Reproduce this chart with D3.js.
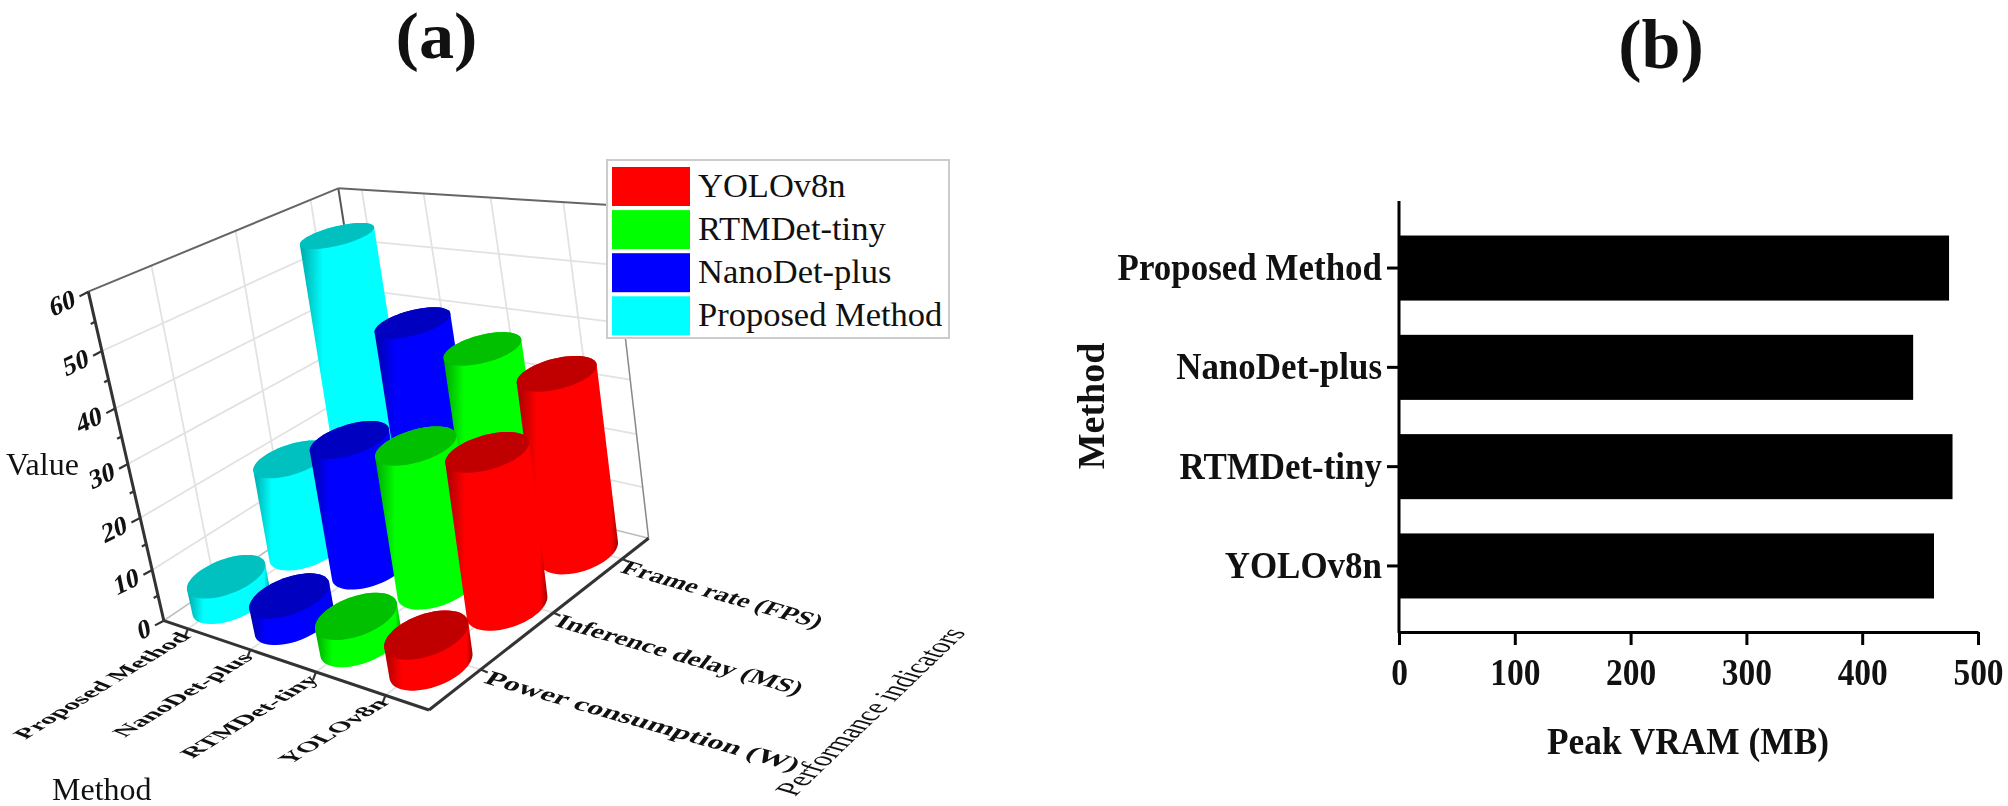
<!DOCTYPE html>
<html><head><meta charset="utf-8">
<script src="https://d3js.org/d3.v7.min.js"></script>
<style>html,body{margin:0;background:#fff}svg{display:block;filter:blur(.55px)}text{font-family:"Liberation Serif",serif;fill:#111}</style>
</head><body><svg id="c" width="2008" height="806"></svg>
<script>
const methods=["Proposed Method","NanoDet-plus","RTMDet-tiny","YOLOv8n"];
const indicators=["Power consumption (W)","Inference delay (MS)","Frame rate (FPS)"];
const powerValues=[5,5,5,5.5];
const delayValues=[18.5,25,26.5,28];
const frameValues=[54,39,36,33.5];
const legendOrder=["YOLOv8n","RTMDet-tiny","NanoDet-plus","Proposed Method"];
const colors={"YOLOv8n":["#ff0000","#c00000","#a80000"],"RTMDet-tiny":["#00ff00","#00c000","#00a800"],"NanoDet-plus":["#0000ff","#0000c0","#0000a8"],"Proposed Method":["#00ffff","#00c0c0","#00a8a8"]};
const vramMethods=["Proposed Method","NanoDet-plus","RTMDet-tiny","YOLOv8n"];
const vramValues=[475,444,478,462];
const zTicks=[0,10,20,30,40,50,60];
const vramTicks=[0,100,200,300,400,500];

const svg=d3.select("#c");
const defs=svg.append("defs");
Object.entries(colors).forEach(([k,c],i)=>{
  const g=defs.append("linearGradient").attr("id","g"+i);
  [[0,c[2]],[.2,c[0]],[.93,c[0]],[1,c[2]]].forEach(s=>g.append("stop").attr("offset",s[0]).attr("stop-color",s[1]));
  c.gid="url(#g"+i+")";
});

/* projection of the 3D box */
function homography(q){
  const [[x0,y0],[x1,y1],[x2,y2],[x3,y3]]=q;
  const dx1=x1-x2,dx2=x3-x2,sx=x0-x1+x2-x3,dy1=y1-y2,dy2=y3-y2,sy=y0-y1+y2-y3;
  const den=dx1*dy2-dx2*dy1,g=(sx*dy2-dx2*sy)/den,h=(dx1*sy-sx*dy1)/den;
  const a=x1-x0+g*x1,b=x3-x0+h*x3,d=y1-y0+g*y1,e=y3-y0+h*y3;
  return (u,v)=>{const w=g*u+h*v+1;return [(a*u+b*v+x0)/w,(d*u+e*v+y0)/w];};
}
const floorH=homography([[163.8,620.7],[429,710],[648.6,538.3],[383,472]]);
const topH=homography([[88.3,291.7],[371,335],[610,205],[338.3,188.3]]);
const zScale=d3.scaleLinear().domain([0,60]).range([0,1]);
const zWarp=t=>t/(1+.1*(1-t));
function P(u,v,z){const a=floorH(u,v),b=topH(u,v),f=zWarp(zScale(z));return [a[0]+(b[0]-a[0])*f,a[1]+(b[1]-a[1])*f];}
const uScale=d3.scalePoint().domain(methods).range([.1,.85]);
const vScale=d3.scalePoint().domain(indicators).range([.22,.87]);
const cylU=d3.scalePoint().domain(methods).range([.11,.865]);
const cylV=d3.scalePoint().domain(indicators).range([.175,.85]);
const line=d3.line();
const g3=svg.append("g");
function seg(a,b,col,w){g3.append("path").attr("d",line([a,b])).attr("stroke",col).attr("stroke-width",w).attr("fill","none");}

/* walls */
const gridCol="#e2e2e2";
zTicks.filter(z=>z>0&&z<60).forEach(z=>{
  seg(P(0,0,z),P(0,1,z),gridCol,1.8);
  seg(P(0,1,z),P(1,1,z),gridCol,1.8);
});
methods.forEach(m=>{const u=uScale(m);seg(P(u,1,0),P(u,1,60),gridCol,1.8);seg(P(u,0,0),P(u,1,0),gridCol,1.8);});
indicators.forEach(n=>{const v=vScale(n);seg(P(0,v,0),P(0,v,60),gridCol,1.8);seg(P(0,v,0),P(1,v,0),gridCol,1.8);});
seg(P(0,1,0),P(1,1,0),"#bbb",1.5);
seg(P(0,0,0),P(0,1,0),"#bbb",1.5);
seg(P(0,1,0),P(0,1,60),"#555",2);
seg(P(0,0,60),P(0,1,60),"#666",2);
seg(P(0,1,60),P(1,1,60),"#666",2);
seg(P(1,1,0),P(1,1,60),"#888",1.5);
seg(P(0,0,0),P(0,0,60),"#333",3);
seg(P(0,0,0),P(1,0,0),"#333",3);
seg(P(1,0,0),P(1,1,0),"#333",3);

/* cylinders */
const ru=.098,rv=.132,angles=d3.range(0,360,6).map(a=>a*Math.PI/180);
const rows=[[indicators[2],frameValues],[indicators[1],delayValues],[indicators[0],powerValues]];
rows.forEach(([name,vals])=>{
  methods.forEach((m,i)=>{
    const u=cylU(m),v=cylV(name),z=vals[i],c=colors[m];
    const ring=h=>angles.map(a=>P(u+ru*Math.cos(a),v+rv*Math.sin(a),h));
    const bottom=ring(0),top=ring(z);
    const hull=d3.polygonHull(bottom.concat(top));
    g3.append("path").attr("d",line(hull)+"Z").attr("fill",c.gid);
    g3.append("path").attr("d",line(top)+"Z").attr("fill",c[1]);
  });
});

/* slanted axis text */
function skewText(x,y,t,size,bv,dv,anchor,weight){
  svg.append("text").attr("transform",`matrix(${bv[0]},${bv[1]},${dv[0]},${dv[1]},${x},${y})`)
    .attr("text-anchor",anchor).attr("font-weight",weight||"bold").attr("font-size",size).text(t);
}
zTicks.forEach(z=>{
  const p=P(0,0,z);skewText(p[0]-12,p[1]+14,z,27,[.9,-.44],[.2,.98],"end");
});
d3.range(0,60.1,5).forEach(z=>{const p=P(0,0,z);const l=z%10?5:10;seg(p,[p[0]-l*.88,p[1]+l*.47],"#333",2.2);});
methods.forEach(m=>{
  const p=P(uScale(m),0,0);seg(p,[p[0]-3,p[1]+8],"#333",2.2);
  skewText(p[0]+4,p[1]+8,m,20,[1.1,-.68],[1.05,.42],"end");
});
indicators.forEach((n,i)=>{
  const v=vScale(n),p=P(1,v,0);seg(p,[p[0]+7,p[1]+3],"#333",2.2);
  const k=[1.56,1.41,1.37][i],dx=[0,-2,-5][i];
  skewText(p[0]+2+dx,p[1]+13,n,20,[k*.962,k*.275],[-.68,.88],"start");
});
svg.append("text").attr("x",6).attr("y",475).attr("font-size",32).text("Value");
svg.append("text").attr("x",52).attr("y",800).attr("font-size",32).text("Method");
skewText(795,797,"Performance indicators",26,[.71,-.68],[1.22,.36],"start","normal");

/* legend */
const lg=svg.append("g");
lg.append("rect").attr("x",607).attr("y",160).attr("width",342).attr("height",178).attr("fill","#fff").attr("stroke","#ccc").attr("stroke-width",2);
legendOrder.forEach((m,i)=>{
  lg.append("rect").attr("x",612).attr("y",167+i*43.1).attr("width",78).attr("height",39).attr("fill",colors[m][0]);
  lg.append("text").attr("x",698).attr("y",197+i*43.1).attr("font-size",34.5).text(m);
});

/* panel b */
const bX=d3.scaleLinear().domain([0,500]).range([1399,1978]);
const bY=d3.scaleBand().domain(vramMethods).range([218.4,615.6]).paddingInner(.345).paddingOuter(.1725);
const gb=svg.append("g");
vramMethods.forEach((m,i)=>{
  gb.append("rect").attr("x",bX(0)).attr("y",bY(m)).attr("width",bX(vramValues[i])-bX(0)).attr("height",bY.bandwidth()).attr("fill","#000");
});
const ax=gb.append("g").attr("transform","translate(0,632)").call(d3.axisBottom(bX).tickValues(vramTicks).tickSize(13).tickSizeOuter(0));
const ay=gb.append("g").attr("transform","translate(1399,0)").call(d3.axisLeft(bY).tickSize(12).tickSizeOuter(0));
ay.select(".domain").remove();
gb.append("path").attr("d",line([[1399,201],[1399,633]])).attr("stroke","#000").attr("stroke-width",3);
ax.select(".domain").attr("stroke-width",3);
[ax,ay].forEach(a=>{a.selectAll(".tick line").attr("stroke-width",3);a.selectAll("text").attr("font-family","Liberation Serif").attr("font-weight","bold").attr("font-size",38).attr("fill","#111");});
ax.selectAll("text").attr("dy",0).attr("y",0).attr("transform","translate(0,53) scale(.88,1)");
ay.selectAll("text").attr("x",0).attr("dy",0).attr("transform","translate(-17,12) scale(.92,1)");
gb.append("text").attr("transform","translate(1104,406) rotate(-90)").attr("text-anchor","middle").attr("font-weight","bold").attr("font-size",38).text("Method");
gb.append("text").attr("transform","translate(1688,754) scale(.93,1)").attr("text-anchor","middle").attr("font-weight","bold").attr("font-size",38).text("Peak VRAM (MB)");
svg.append("text").attr("transform","translate(436.5,58) scale(1.08,1)").attr("text-anchor","middle").attr("font-weight","bold").attr("font-size",65).text("(a)");
svg.append("text").attr("x",1661).attr("y",68).attr("text-anchor","middle").attr("font-weight","bold").attr("font-size",70).text("(b)");
</script></body></html>
